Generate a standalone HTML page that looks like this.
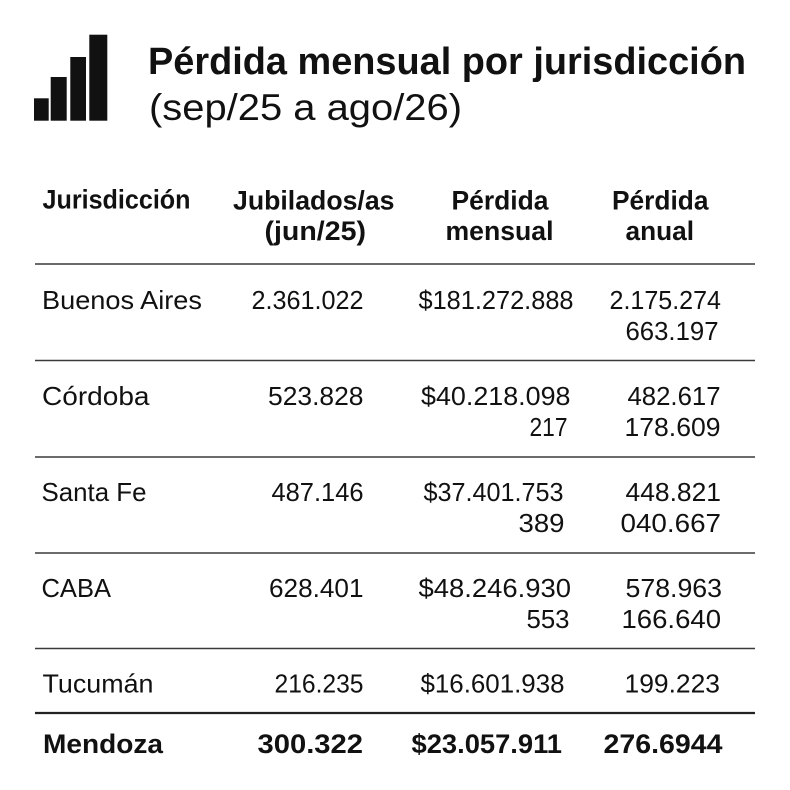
<!DOCTYPE html>
<html>
<head>
<meta charset="utf-8">
<style>
  html, body { margin: 0; padding: 0; background: #fff; }
  svg { display: block; }
  text { font-family: "Liberation Sans", "DejaVu Sans", sans-serif; fill: #111; }
  .t { font-weight: bold; font-size: 38px; }
  .st { font-size: 37px; }
  .h { font-weight: bold; font-size: 27px; }
  .b { font-size: 26px; }
  .bb { font-weight: bold; font-size: 27px; }
</style>
</head>
<body>
<svg width="790" height="790" viewBox="0 0 790 790" xmlns="http://www.w3.org/2000/svg">
  <rect width="790" height="790" fill="#fff"/>
  <!-- icon -->
  <rect x="34" y="98.3" width="14.7" height="22.4" fill="#111"/>
  <rect x="50.7" y="77" width="16" height="43.7" fill="#111"/>
  <rect x="70.3" y="57" width="15.7" height="63.7" fill="#111"/>
  <rect x="89.3" y="34.7" width="18" height="86" fill="#111"/>

  <!-- title -->
  <text class="t" x="148" y="74" textLength="598" lengthAdjust="spacingAndGlyphs">Pérdida mensual por jurisdicción</text>
  <text class="st" x="149" y="120" textLength="313" lengthAdjust="spacingAndGlyphs">(sep/25 a ago/26)</text>

  <!-- header -->
  <text class="h" x="42.5" y="208.5" textLength="148" lengthAdjust="spacingAndGlyphs">Jurisdicción</text>
  <text class="h" x="233" y="209.5" textLength="161.5" lengthAdjust="spacingAndGlyphs">Jubilados/as</text>
  <text class="h" x="264.5" y="240" textLength="101.5" lengthAdjust="spacingAndGlyphs">(jun/25)</text>
  <text class="h" x="451.5" y="209.5" textLength="97" lengthAdjust="spacingAndGlyphs">Pérdida</text>
  <text class="h" x="445.5" y="240" textLength="108" lengthAdjust="spacingAndGlyphs">mensual</text>
  <text class="h" x="612" y="209.5" textLength="96.5" lengthAdjust="spacingAndGlyphs">Pérdida</text>
  <text class="h" x="625.5" y="240" textLength="68.5" lengthAdjust="spacingAndGlyphs">anual</text>

  <!-- rules -->
  <g stroke="#3a3a3a" stroke-width="1.6">
    <line x1="35" y1="264" x2="755" y2="264"/>
    <line x1="35" y1="360.5" x2="755" y2="360.5"/>
    <line x1="35" y1="457" x2="755" y2="457"/>
    <line x1="35" y1="553" x2="755" y2="553"/>
    <line x1="35" y1="648.5" x2="755" y2="648.5"/>
  </g>
  <line x1="35" y1="713" x2="755" y2="713" stroke="#222" stroke-width="2.2"/>

  <!-- Buenos Aires -->
  <text class="b" x="42" y="309" textLength="160" lengthAdjust="spacingAndGlyphs">Buenos Aires</text>
  <text class="b" x="251.5" y="309" textLength="112" lengthAdjust="spacingAndGlyphs">2.361.022</text>
  <text class="b" x="418.5" y="309" textLength="155" lengthAdjust="spacingAndGlyphs">$181.272.888</text>
  <text class="b" x="609.5" y="309" textLength="111.5" lengthAdjust="spacingAndGlyphs">2.175.274</text>
  <text class="b" x="625.5" y="340" textLength="93" lengthAdjust="spacingAndGlyphs">663.197</text>

  <!-- Córdoba -->
  <text class="b" x="42" y="405" textLength="107.5" lengthAdjust="spacingAndGlyphs">Córdoba</text>
  <text class="b" x="268" y="405" textLength="95.5" lengthAdjust="spacingAndGlyphs">523.828</text>
  <text class="b" x="421" y="405" textLength="149.5" lengthAdjust="spacingAndGlyphs">$40.218.098</text>
  <text class="b" x="627.5" y="405" textLength="93" lengthAdjust="spacingAndGlyphs">482.617</text>
  <text class="b" x="529.5" y="436" textLength="38" lengthAdjust="spacingAndGlyphs">217</text>
  <text class="b" x="624.5" y="436" textLength="96" lengthAdjust="spacingAndGlyphs">178.609</text>

  <!-- Santa Fe -->
  <text class="b" x="41.5" y="501" textLength="105" lengthAdjust="spacingAndGlyphs">Santa Fe</text>
  <text class="b" x="271.5" y="501" textLength="92" lengthAdjust="spacingAndGlyphs">487.146</text>
  <text class="b" x="423.5" y="501" textLength="140" lengthAdjust="spacingAndGlyphs">$37.401.753</text>
  <text class="b" x="625.5" y="501" textLength="95.5" lengthAdjust="spacingAndGlyphs">448.821</text>
  <text class="b" x="518.5" y="532" textLength="46" lengthAdjust="spacingAndGlyphs">389</text>
  <text class="b" x="620.5" y="532" textLength="100.5" lengthAdjust="spacingAndGlyphs">040.667</text>

  <!-- CABA -->
  <text class="b" x="41.5" y="597" textLength="69.5" lengthAdjust="spacingAndGlyphs">CABA</text>
  <text class="b" x="269" y="597" textLength="94.5" lengthAdjust="spacingAndGlyphs">628.401</text>
  <text class="b" x="418.5" y="597" textLength="152.5" lengthAdjust="spacingAndGlyphs">$48.246.930</text>
  <text class="b" x="625.5" y="597" textLength="96.5" lengthAdjust="spacingAndGlyphs">578.963</text>
  <text class="b" x="526.5" y="628" textLength="43" lengthAdjust="spacingAndGlyphs">553</text>
  <text class="b" x="621.5" y="628" textLength="99.5" lengthAdjust="spacingAndGlyphs">166.640</text>

  <!-- Tucumán -->
  <text class="b" x="42.5" y="692.5" textLength="111" lengthAdjust="spacingAndGlyphs">Tucumán</text>
  <text class="b" x="274.5" y="692.5" textLength="89" lengthAdjust="spacingAndGlyphs">216.235</text>
  <text class="b" x="420.5" y="692.5" textLength="144" lengthAdjust="spacingAndGlyphs">$16.601.938</text>
  <text class="b" x="624.5" y="692.5" textLength="95.5" lengthAdjust="spacingAndGlyphs">199.223</text>

  <!-- Mendoza (bold) -->
  <text class="bb" x="43" y="753" textLength="120" lengthAdjust="spacingAndGlyphs">Mendoza</text>
  <text class="bb" x="257.5" y="753" textLength="105.5" lengthAdjust="spacingAndGlyphs">300.322</text>
  <text class="bb" x="411.5" y="753" textLength="150.5" lengthAdjust="spacingAndGlyphs">$23.057.911</text>
  <text class="bb" x="603.5" y="753" textLength="119" lengthAdjust="spacingAndGlyphs">276.6944</text>
</svg>
</body>
</html>
